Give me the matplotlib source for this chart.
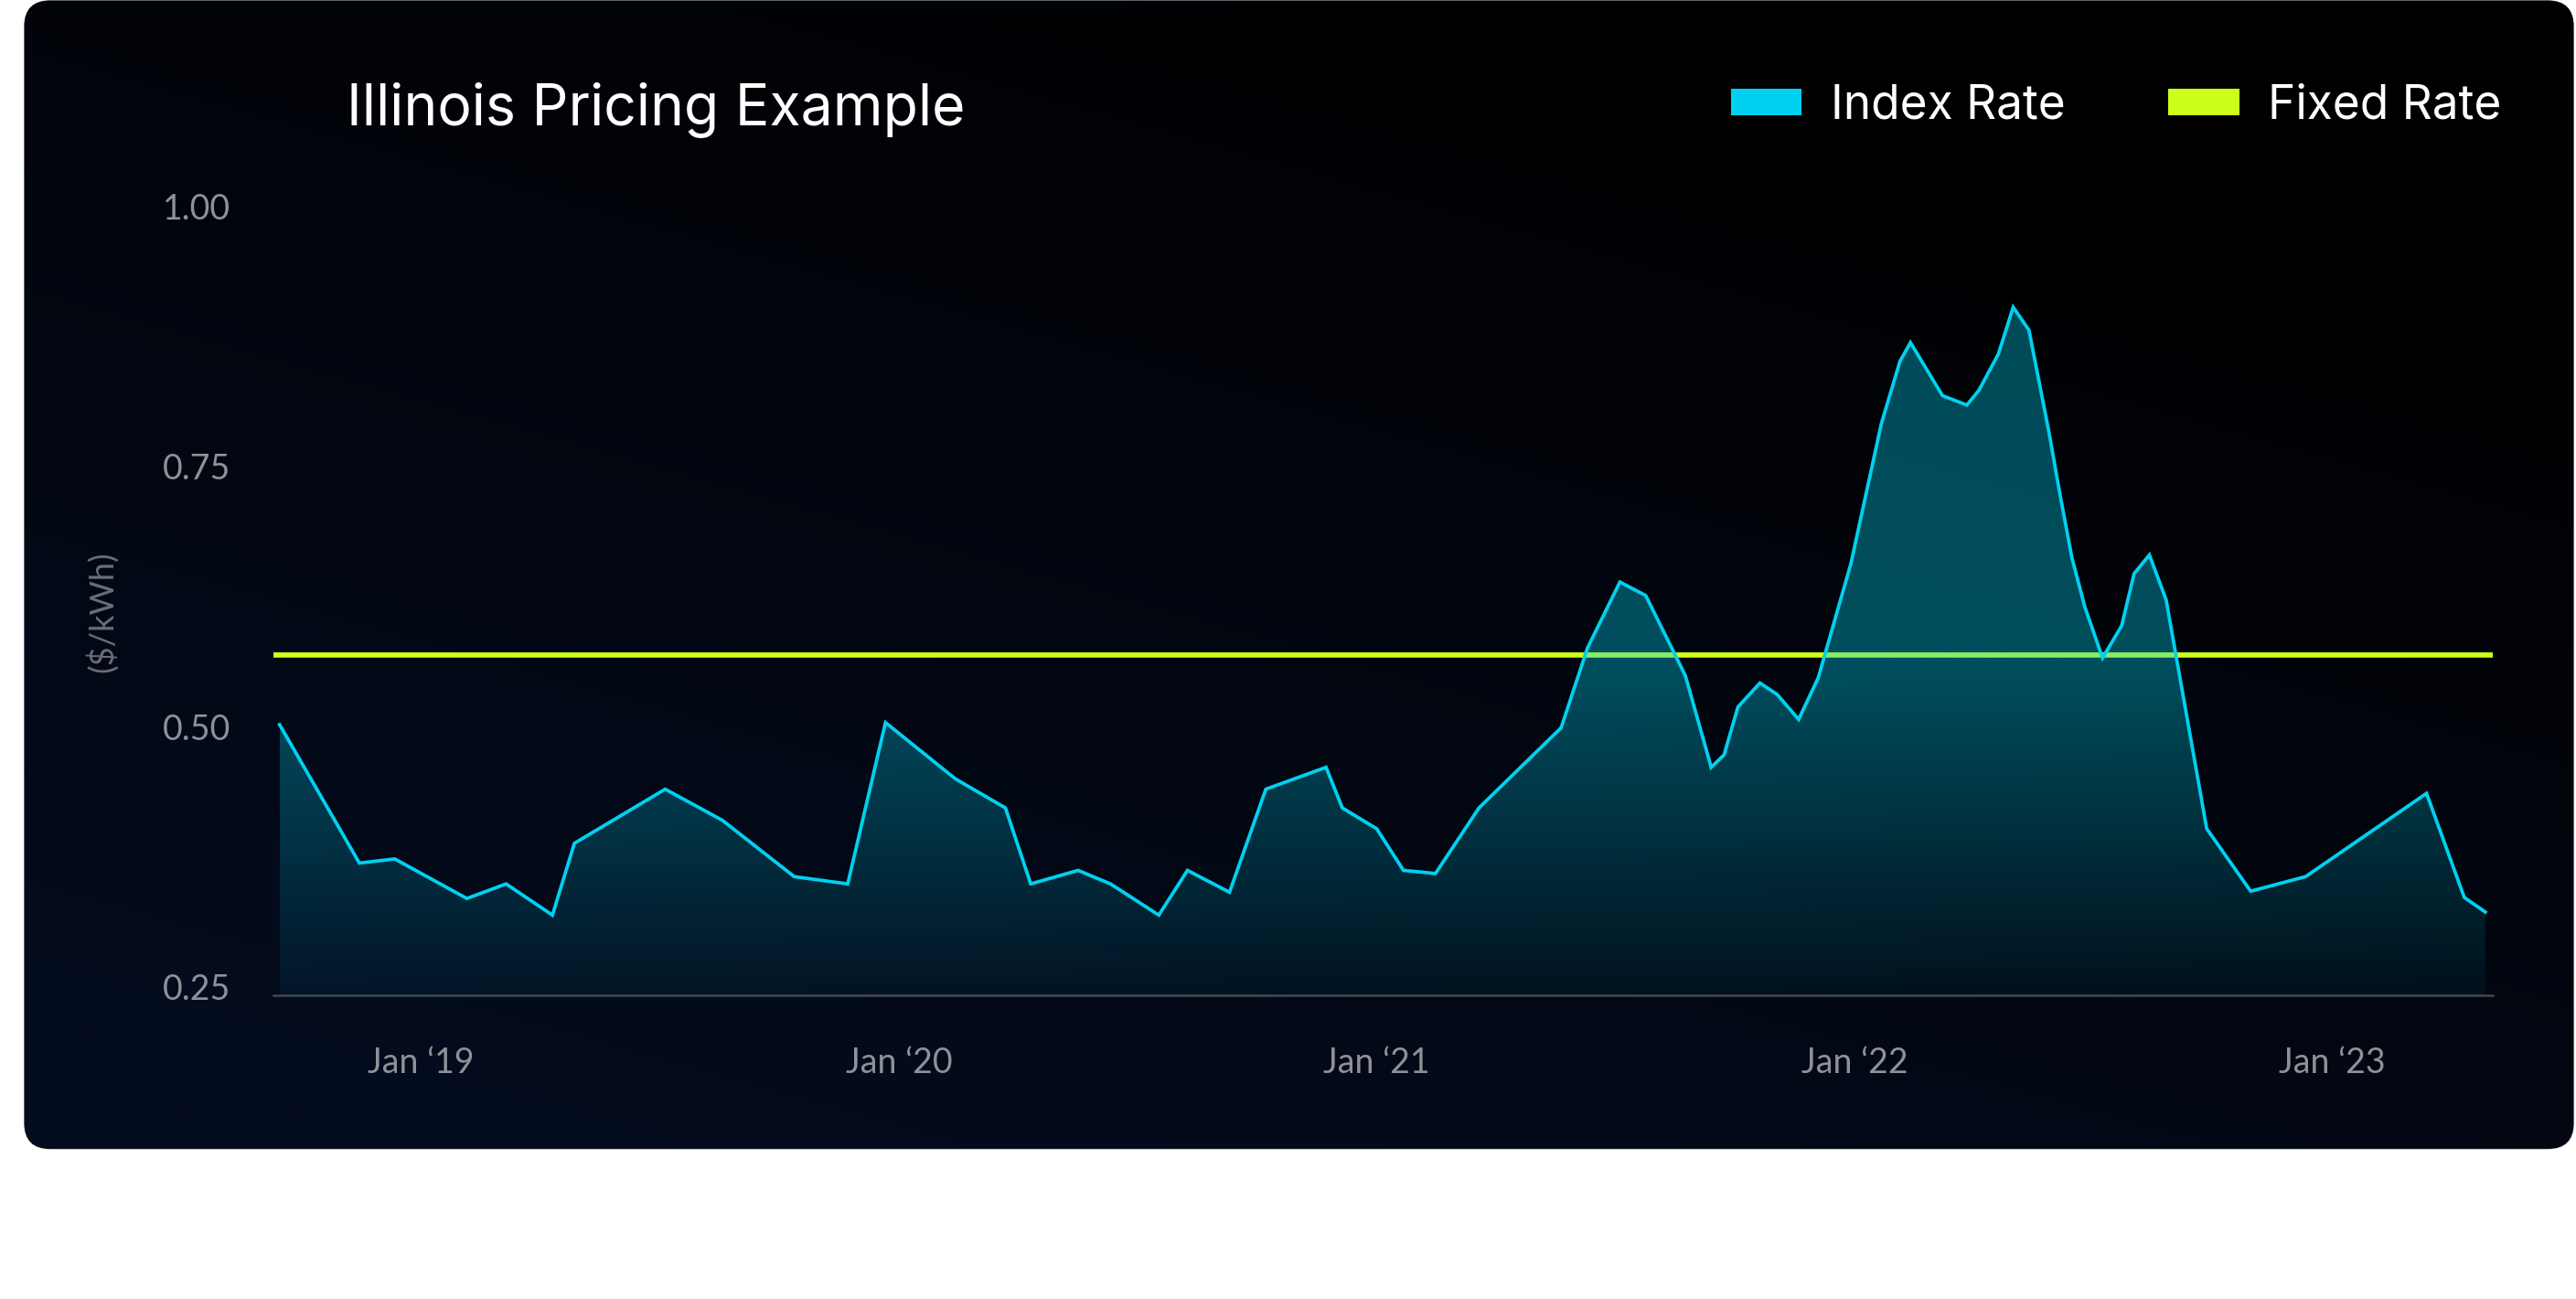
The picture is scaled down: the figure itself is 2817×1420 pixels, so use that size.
import numpy as np
import matplotlib
matplotlib.use("Agg")
import matplotlib.pyplot as plt
from matplotlib.patches import FancyBboxPatch, Patch

# ---------------- data ----------------
dates = [2018.704, 2018.871, 2018.945, 2019.096, 2019.178, 2019.275, 2019.321,
         2019.511, 2019.631, 2019.781, 2019.893, 2019.972, 2020.118, 2020.223,
         2020.276, 2020.375, 2020.443, 2020.544, 2020.604, 2020.692, 2020.768,
         2020.894, 2020.928, 2021.000, 2021.056, 2021.123, 2021.214, 2021.386,
         2021.441, 2021.509, 2021.563, 2021.646, 2021.700, 2021.727, 2021.756,
         2021.802, 2021.838, 2021.883, 2021.924, 2021.992, 2022.056, 2022.095,
         2022.117, 2022.184, 2022.235, 2022.260, 2022.301, 2022.332, 2022.365,
         2022.406, 2022.430, 2022.455, 2022.482, 2022.519, 2022.559, 2022.585,
         2022.617, 2022.652, 2022.737, 2022.829, 2022.944, 2023.197, 2023.276,
         2023.320]
index_rate = [0.502, 0.369, 0.373, 0.335, 0.349, 0.319, 0.388,
              0.440, 0.410, 0.356, 0.349, 0.504, 0.450, 0.422,
              0.349, 0.362, 0.349, 0.319, 0.362, 0.341, 0.440,
              0.461, 0.422, 0.402, 0.362, 0.359, 0.422, 0.499,
              0.5755, 0.639, 0.626, 0.549, 0.461, 0.473, 0.519,
              0.542, 0.531, 0.507, 0.547, 0.656, 0.791, 0.851,
              0.869, 0.818, 0.809, 0.823, 0.858, 0.903, 0.881,
              0.785, 0.723, 0.662, 0.615, 0.566, 0.597, 0.647,
              0.665, 0.622, 0.402, 0.342, 0.356, 0.436, 0.336,
              0.322]
fixed_rate = 0.569

x_ticks = [2019, 2020, 2021, 2022, 2023]
x_labels = ["Jan \u201819", "Jan \u201820", "Jan \u201821", "Jan \u201822", "Jan \u201823"]
y_ticks = [0.25, 0.50, 0.75, 1.00]
y_labels = ["0.25", "0.50", "0.75", "1.00"]

title = "Illinois Pricing Example"
series_names = ["Index Rate", "Fixed Rate"]
y_title = "($/kWh)"

# ---------------- style ----------------
W, H = 2817, 1420
CYAN = "#00d1f0"
LIME = "#ccff1a"
GRAY = "#8e9197"
TICK_FONT = ["Lato", "DejaVu Sans"]
HEAD_FONT = ["Inter", "DejaVu Sans"]

fig = plt.figure(figsize=(W / 100, H / 100), dpi=100)
fig.patch.set_facecolor("white")

# background card with gradient
bg = fig.add_axes([0, 0, 1, 1])
bg.set_xlim(0, W)
bg.set_ylim(H, 0)
bg.axis("off")
card = FancyBboxPatch((27, 1), 2787, 1254.5,
                      boxstyle="round,pad=0,rounding_size=28",
                      facecolor="#02060f", edgecolor="#1c2028", lw=1.0)
bg.add_patch(card)
gy, gx = np.mgrid[0:1:300j, 0:1:600j]
f = np.clip(gy * 0.8 + (1 - gx) * 0.5 - 0.2, 0, 1)
navy = np.array([4, 12, 31]) / 255.0
img = f[..., None] * navy[None, None, :]
im_bg = bg.imshow(img, extent=(27, 2814, 1255.5, 1), origin="upper",
                  aspect="auto", interpolation="bilinear", zorder=1)
im_bg.set_clip_path(card)

# main axes
x_left = 2019 + (299 - 460.4) / 522.55
x_right = 2019 + (2725.7 - 460.4) / 522.55
y_bottom = 0.242
ax = fig.add_axes([299 / W, 1 - 1088 / H, (2725.7 - 299) / W, (1088 - 225.4) / H])
ax.patch.set_alpha(0)

ax.axhline(fixed_rate, color=LIME, lw=4.1, zorder=2, solid_capstyle="butt")

poly = ax.fill_between(dates, index_rate, y_bottom, facecolor="none",
                       edgecolor="none", zorder=3)
vals = np.linspace(y_bottom, 1.0, 400)
alpha = np.clip(0.36 - (0.55 - vals) * 1.0, 0.04, 0.36)
grad = np.zeros((len(vals), 2, 4))
grad[..., 0] = 0 / 255
grad[..., 1] = 209 / 255
grad[..., 2] = 240 / 255
grad[..., 3] = alpha[:, None]
im = ax.imshow(grad, extent=(dates[0], dates[-1], y_bottom, 1.0), origin="lower",
               aspect="auto", interpolation="bilinear", zorder=3)
im.set_clip_path(poly.get_paths()[0], ax.transData)

ax.plot(dates, index_rate, color=CYAN, lw=2.7, zorder=4, solid_joinstyle="miter")

ax.set_xlim(x_left, x_right)
ax.set_ylim(y_bottom, 1.0)

for s in ["top", "right", "left"]:
    ax.spines[s].set_visible(False)
ax.spines["bottom"].set_color("#46484d")
ax.spines["bottom"].set_linewidth(1.8)

ax.set_xticks(x_ticks)
ax.set_xticklabels(x_labels)
ax.set_yticks(y_ticks)
ax.set_yticklabels(y_labels)
ax.tick_params(axis="both", length=0)
ax.tick_params(axis="x", pad=40)
ax.tick_params(axis="y", pad=34)
for lab in ax.get_xticklabels() + ax.get_yticklabels():
    lab.set_fontfamily(TICK_FONT)
    lab.set_fontweight("normal")
    lab.set_fontsize(27)
    lab.set_color(GRAY)

fig.text(111 / W, 1 - 669 / H, y_title, rotation=90, ha="center", va="center",
         fontsize=26, color="#6a6e75", family=TICK_FONT, fontweight="normal")

fig.text(378.8 / W, 1 - 136 / H, title, ha="left", va="baseline",
         fontsize=45, color="white", family=HEAD_FONT, fontweight="normal")

handles = [Patch(facecolor=CYAN, edgecolor="none"),
           Patch(facecolor=LIME, edgecolor="none")]
leg = fig.legend(handles, series_names, loc="center left",
                 bbox_to_anchor=(1892.7 / W, 1 - 116 / H), ncol=2, frameon=False,
                 handlelength=1.5, handleheight=0.5, handletextpad=0.62,
                 columnspacing=2.2, borderpad=0, borderaxespad=0,
                 prop={"family": HEAD_FONT, "size": 37, "weight": "normal"})
for t in leg.get_texts():
    t.set_color("white")

fig.savefig("out.png", dpi=100, facecolor=fig.get_facecolor())
